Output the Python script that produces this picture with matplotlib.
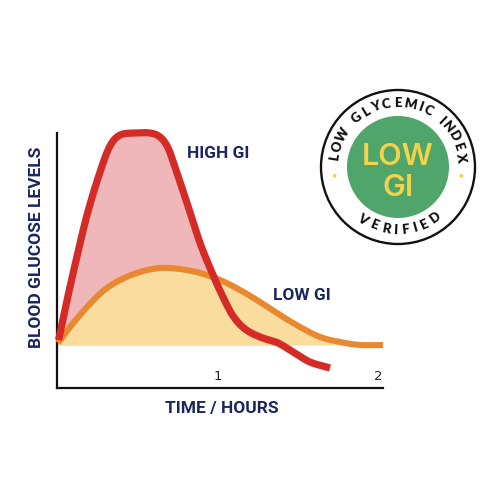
import numpy as np
import matplotlib
matplotlib.use("Agg")
import matplotlib.pyplot as plt
from matplotlib.patches import Circle

# ---------------- data ----------------
high_gi_time = [0.01, 0.056, 0.112, 0.187, 0.268, 0.330, 0.393, 0.486, 0.579, 0.642, 0.692,
                0.741, 0.810, 0.891, 0.972, 1.034, 1.097, 1.171, 1.265, 1.377, 1.470, 1.576, 1.701]
high_gi_level = [0.48, 0.83, 1.23, 1.73, 2.16, 2.42, 2.53, 2.55, 2.55, 2.51, 2.40,
                 2.18, 1.85, 1.45, 1.13, 0.91, 0.72, 0.59, 0.51, 0.45, 0.36, 0.26, 0.20]
low_gi_time = [0.006, 0.081, 0.187, 0.287, 0.393, 0.517, 0.642, 0.766, 0.891, 1.016, 1.140,
               1.265, 1.389, 1.514, 1.639, 1.763, 1.888, 2.031]
low_gi_level = [0.45, 0.61, 0.81, 0.97, 1.08, 1.16, 1.20, 1.19, 1.15, 1.08, 0.98,
                0.86, 0.73, 0.61, 0.51, 0.46, 0.43, 0.43]
baseline_level = 0.43
xtick_values = [1, 2]
xtick_labels = ["1", "2"]
series_labels = ["HIGH GI", "LOW GI"]
x_label = "TIME / HOURS"
y_label = "BLOOD GLUCOSE LEVELS"
badge_ring_top = "LOW GLYCEMIC INDEX"
badge_ring_bottom = "VERIFIED"
badge_center = ["LOW", "GI"]

# colours
RED = "#d52b27"
ORANGE = "#e9892f"
PINK = "#efb7ba"
YELLOW = "#fbdc9f"
NAVY = "#1a2662"
GREEN = "#4fa56a"
GOLD = "#f3d34c"


def smooth(xs, ys, n=20):
    """Catmull-Rom smoothing through the given points (drawing only)."""
    x = np.asarray(xs, float)
    y = np.asarray(ys, float)
    px = np.concatenate([[2 * x[0] - x[1]], x, [2 * x[-1] - x[-2]]])
    py = np.concatenate([[2 * y[0] - y[1]], y, [2 * y[-1] - y[-2]]])
    ox, oy = [], []
    t = np.linspace(0, 1, n, endpoint=False)
    for i in range(1, len(px) - 2):
        for arr, out in ((px, ox), (py, oy)):
            p0, p1, p2, p3 = arr[i - 1], arr[i], arr[i + 1], arr[i + 2]
            out.extend(0.5 * ((2 * p1) + (-p0 + p2) * t + (2 * p0 - 5 * p1 + 4 * p2 - p3) * t ** 2
                              + (-p0 + 3 * p1 - 3 * p2 + p3) * t ** 3))
    ox.append(x[-1]); oy.append(y[-1])
    return np.array(ox), np.array(oy)


fig = plt.figure(figsize=(5, 5), dpi=100)
fig.patch.set_facecolor("white")

# main axes: pixel box x 57..383, y 133..388
ax = fig.add_axes([57 / 500, (500 - 388) / 500, 326 / 500, (388 - 133) / 500])
ax.set_xlim(0, 2.031)
ax.set_ylim(0, 2.55)
for s in ("top", "right"):
    ax.spines[s].set_visible(False)
for s in ("left", "bottom"):
    ax.spines[s].set_linewidth(1.6)
    ax.spines[s].set_color("#111111")
ax.set_xticks([])
ax.set_yticks([])

hx, hy = smooth(high_gi_time, high_gi_level)
lx, ly = smooth(low_gi_time, low_gi_level)

hx_f = np.concatenate([[0.0], hx])
hy_f = np.concatenate([[baseline_level], hy])
ax.fill_between(hx_f, baseline_level, hy_f, where=hy_f >= baseline_level, interpolate=True,
                color=PINK, lw=0, zorder=1)
lx_f = np.concatenate([[0.0], lx])
ly_f = np.concatenate([[baseline_level], ly])
ax.fill_between(lx_f, baseline_level, ly_f, color=YELLOW, lw=0, zorder=2)

ax.plot(lx, ly, color=ORANGE, lw=4.4, solid_capstyle="butt", zorder=3, clip_on=False)
ax.plot(hx, hy, color=RED, lw=5.2, solid_capstyle="butt", solid_joinstyle="round",
        zorder=4, clip_on=False)

tick_font = dict(family=["DejaVu Sans"], fontsize=9.5, color="#222222")
for v, lab in zip(xtick_values, xtick_labels):
    ax.text(v, 0.12, lab, ha="center", va="center", **tick_font)

lab_font = dict(family=["Roboto", "DejaVu Sans"], fontweight="bold", color=NAVY, fontsize=12.5)
ax.text(0.81, 2.35, series_labels[0], ha="left", va="center", **lab_font)
ax.text(1.345, 0.93, series_labels[1], ha="left", va="center", **lab_font)
fig.text(222 / 500, 1 - 408 / 500, x_label, ha="center", va="center", **lab_font)
fig.text(37 / 500, 1 - 247 / 500, y_label, ha="center", va="center", rotation=90, **lab_font)

# ---------------- badge ----------------
ov = fig.add_axes([0, 0, 1, 1])
ov.set_xlim(0, 500)
ov.set_ylim(500, 0)
ov.set_aspect("equal")
ov.axis("off")
ov.patch.set_alpha(0)

cx, cy = 398, 167
ov.add_patch(Circle((cx, cy), 77, facecolor="white", edgecolor="#111111", lw=1.7, zorder=1))
ov.add_patch(Circle((cx, cy), 51, facecolor=GREEN, edgecolor="none", zorder=2))
for ang in (188, -8):
    a = np.deg2rad(ang)
    ov.add_patch(Circle((cx + 64 * np.cos(a), cy - 64 * np.sin(a)), 1.9,
                        facecolor=GOLD, edgecolor="none", zorder=3))

ring_font = dict(family=["Lato", "DejaVu Sans"], fontweight="heavy", fontsize=9.5, color="#111111")
widths = {"I": 0.55, " ": 0.75, "M": 1.25, "W": 1.3}


def arc_text(text, start, end, r, top=True):
    w = [widths.get(c, 1.0) for c in text]
    cum = np.cumsum(w) - np.array(w) / 2
    cum = (cum - cum[0]) / (cum[-1] - cum[0])
    for c, f in zip(text, cum):
        ang = start + (end - start) * f
        a = np.deg2rad(ang)
        x = cx + r * np.cos(a)
        y = cy - r * np.sin(a)
        rot = ang - 90 if top else ang - 270
        ov.text(x, y, c, rotation=rot, rotation_mode="anchor", ha="center", va="center",
                zorder=4, **ring_font)


arc_text(badge_ring_top, 171, 9, 64, top=True)
arc_text(badge_ring_bottom, 236, 306, 63, top=False)

center_font = dict(family=["Inter", "DejaVu Sans"], fontweight="semibold", fontsize=22, color=GOLD)
ov.text(cx, 157, badge_center[0], ha="center", va="center", zorder=4, **center_font)
ov.text(cx, 188, badge_center[1], ha="center", va="center", zorder=4, **center_font)

fig.savefig("out.png", dpi=100, facecolor="white")
